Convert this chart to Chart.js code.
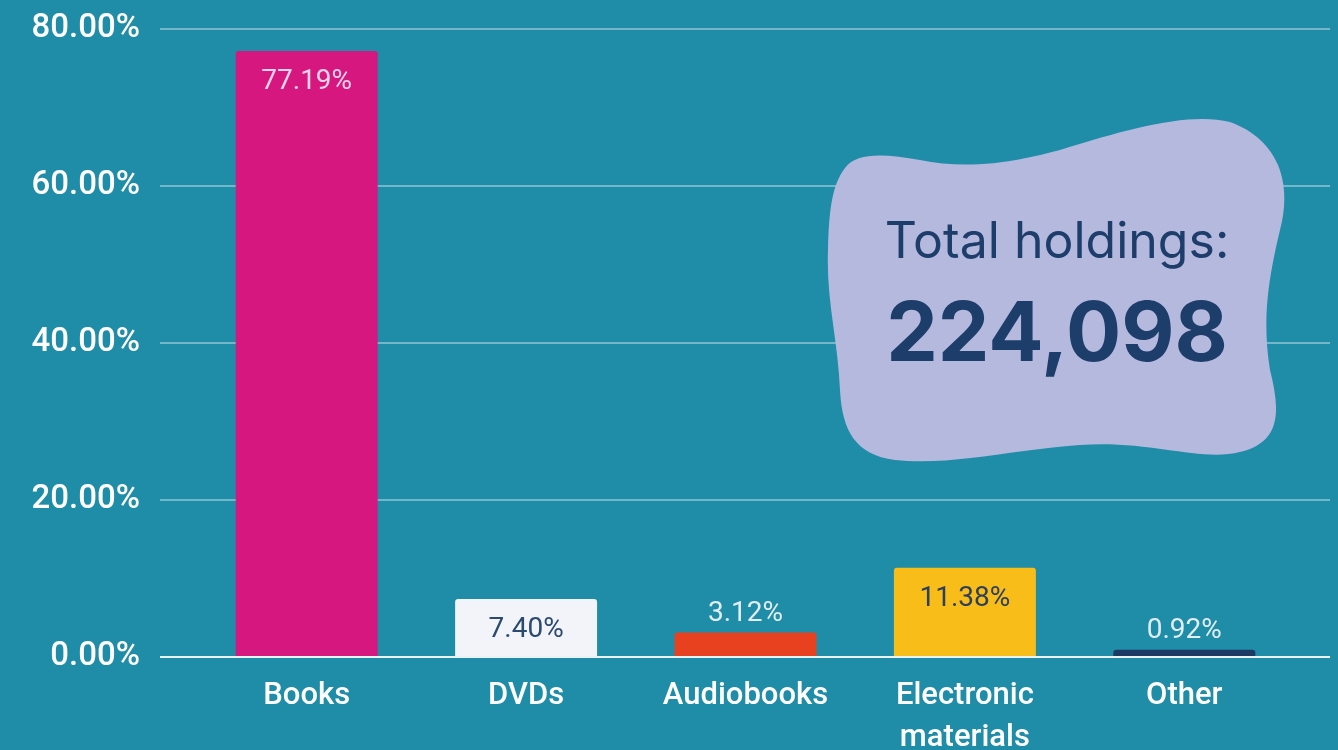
<!DOCTYPE html>
<html>
<head>
<meta charset="utf-8">
<script src="https://cdn.jsdelivr.net/npm/chart.js@4"></script>
<style>
  html, body { margin: 0; padding: 0; overflow: hidden; background: #1f8ca8; }
  #wrap { position: relative; width: 1338px; height: 760px; }
  #blob { position: absolute; left: 0; top: 0; pointer-events: none; }
  #total { position: absolute; left: 857px; width: 400px; top: 210px; text-align: center;
           font-family: Inter, sans-serif; color: #1d3d6b; }
  #total .lbl { font-size: 50px; line-height: 60px; }
  #total .num { font-size: 82px; font-weight: 700; line-height: 100px; margin-top: 12px; }
</style>
</head>
<body>
<div id="wrap">
  <canvas id="holdings_chart"></canvas>
  <svg id="blob" width="1338" height="750">
    <path fill="#b6b9de" d="M845,168 C857,152 885,154 920,160 C960,168 1000,166 1060,150 C1130,128 1190,112 1230,122 C1280,140 1292,185 1280,230 C1268,280 1262,320 1270,370 C1280,410 1282,442 1240,452 C1200,462 1150,440 1080,445 C1010,450 950,466 895,460 C855,455 842,430 840,390 C838,340 826,300 828,250 C829,210 832,185 845,168 Z"/>
  </svg>
  <div id="total">
    <div class="lbl">Total holdings:</div>
    <div class="num">224,098</div>
  </div>
</div>
<script>

const categories = ['Books', 'DVDs', 'Audiobooks', ['Electronic', 'materials'], 'Other'];
const shares = [77.19, 7.40, 3.12, 11.38, 0.92];
const tick_values = [0, 20, 40, 60, 80];

const bar_colours = ['#d6177f', '#f2f4f9', '#e8411f', '#f9bd1a', '#1c3a64'];
const label_colours = ['#f5d4e8', '#2a4a70', '#e3eef3', '#2b3f5e', '#e3eef3'];

function grid_colour(ctx) {
    if (ctx.tick && ctx.tick.value === 0) return '#eaf4f7';
    return 'rgba(255,255,255,0.38)';
}

// draws the percent value inside the bar when it is tall enough, else above it
const value_labels = {
    id: 'value_labels',
    afterDatasetsDraw(chart) {
        const ctx = chart.ctx;
        const meta = chart.getDatasetMeta(0);
        ctx.save();
        ctx.font = '400 28px Roboto';
        ctx.textAlign = 'center';
        ctx.textBaseline = 'middle';
        meta.data.forEach((bar, i) => {
            const h = bar.base - bar.y;
            const y = h > 45 ? bar.y + 31 : bar.y - 19;
            ctx.fillStyle = label_colours[i];
            ctx.fillText(shares[i].toFixed(2) + '%', bar.x, y);
        });
        ctx.restore();
    }
};

function init_holdings_chart() {

    const holdings_elem = document.getElementById('holdings_chart').getContext('2d');

    const holdings_data = {
        labels: categories,
        datasets: [{
            data: shares,
            backgroundColor: bar_colours,
            borderRadius: { topLeft: 3, topRight: 3 },
            borderSkipped: 'bottom',
            barPercentage: 0.647,
            categoryPercentage: 1
        }]
    };

    const holdings_config = {
        type: 'bar',
        data: holdings_data,
        options: {
            responsive: true,
            maintainAspectRatio: false,
            animation: false,
            layout: { padding: { left: 30, top: 29, right: 8, bottom: 0 } },
            plugins: {
                legend: { display: false },
                tooltip: { enabled: false }
            },
            scales: {
                x: {
                    grid: { display: false },
                    border: { display: false },
                    ticks: {
                        color: '#ffffff',
                        padding: 10,
                        maxRotation: 0,
                        autoSkip: false,
                        font: { family: 'Roboto', size: 31, weight: '500', lineHeight: 1.35 }
                    },
                    afterFit(scale) { scale.height = 103; }
                },
                y: {
                    min: 0,
                    max: 80,
                    afterBuildTicks(scale) { scale.ticks = tick_values.map(v => ({ value: v })); },
                    grid: { color: grid_colour, lineWidth: 2, tickLength: 37 },
                    border: { display: false },
                    ticks: {
                        color: '#ffffff',
                        padding: 20,
                        font: { family: 'Roboto', size: 33, weight: '500' },
                        callback: v => v.toFixed(2) + '%'
                    },
                    afterFit(scale) {
                        scale.width = 167;
                        scale.paddingTop = 0;
                        scale.paddingBottom = 0;
                    }
                },
                y_right: {
                    position: 'right',
                    min: 0,
                    max: 80,
                    afterBuildTicks(scale) { scale.ticks = tick_values.map(v => ({ value: v })); },
                    grid: { color: grid_colour, lineWidth: 2, tickLength: 36, drawOnChartArea: false },
                    border: { display: false },
                    ticks: { display: false },
                    afterFit(scale) { scale.width = 36; }
                }
            }
        },
        plugins: [value_labels]
    };

    return new Chart(holdings_elem, holdings_config);
}

init_holdings_chart();
</script>
</body>
</html>
